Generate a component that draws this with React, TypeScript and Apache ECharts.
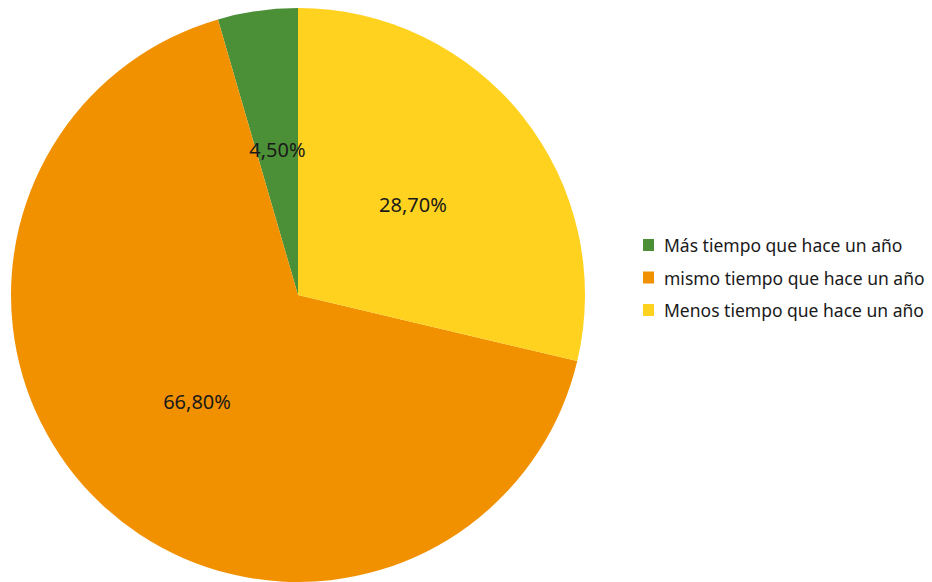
import React, { useEffect, useRef } from "react";
import * as echarts from "echarts";

const categories = [
  "Más tiempo que hace un año",
  "mismo tiempo que hace un año",
  "Menos tiempo que hace un año",
];
const values = [4.5, 66.8, 28.7];
const colors = ["#4b9036", "#f29100", "#ffd21f"];

export default function App() {
  const ref = useRef<HTMLDivElement>(null);
  useEffect(() => {
    if (!ref.current) return;
    const chart = echarts.init(ref.current, null, { renderer: "svg" });
    chart.setOption({
      animation: false,
      color: colors,
      legend: {
        orient: "vertical",
        left: 643,
        top: 236,
        padding: 0,
        itemWidth: 11,
        itemHeight: 12,
        itemGap: 14.5,
        icon: "rect",
        data: categories,
        textStyle: {
          fontFamily: "Noto Sans",
          fontSize: 17.5,
          lineHeight: 18,
          color: "#1a1a1a",
          padding: [0, 0, 0, 5],
        },
      },
      series: [
        {
          type: "pie",
          center: [298, 295],
          radius: 287,
          startAngle: 90,
          clockwise: false,
          label: {
            show: true,
            position: "inside",
            fontFamily: "Noto Sans",
            fontSize: 20,
            color: "#1a1a1a",
            formatter: (p: any) => p.value.toFixed(2).replace(".", ",") + "%",
          },
          labelLine: { show: false },
          emphasis: { disabled: true },
          data: categories.map((name, i) => ({ name, value: values[i] })),
        },
      ],
    });
    return () => chart.dispose();
  }, []);
  return (
    <div
      ref={ref}
      style={{ position: "fixed", left: 0, top: 0, width: 932, height: 582, background: "#fff" }}
    />
  );
}
